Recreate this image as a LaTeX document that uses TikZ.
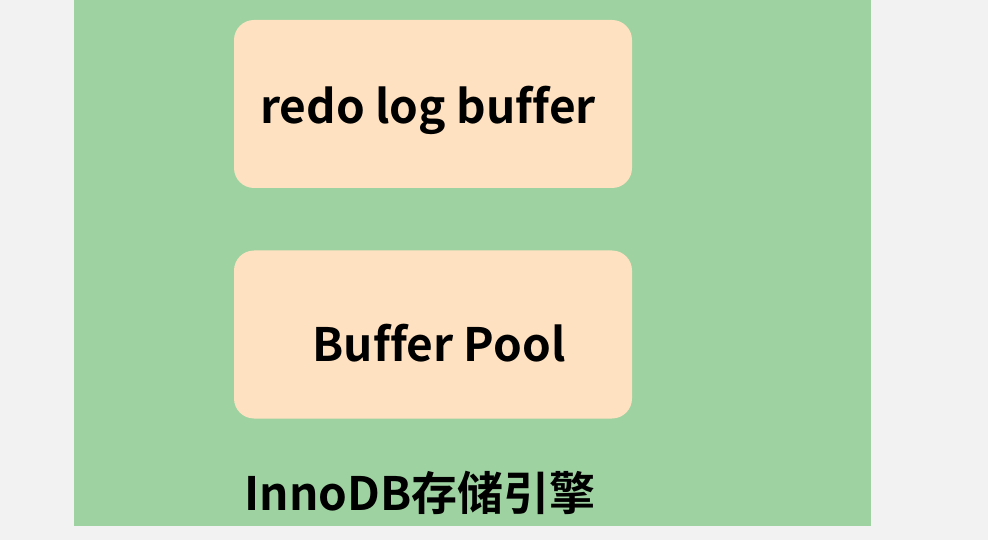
\documentclass[tikz,border=0pt]{standalone}
\usepackage{fontspec}
\setmainfont{Noto Sans CJK SC}[BoldFont={* Bold}, Ligatures=NoCommon]
\begin{document}
\begin{tikzpicture}[x=1pt,y=-1pt,
  bufbox/.style={fill=boxfill, draw=none, rounded corners=20pt, minimum width=398pt, minimum height=168pt, inner sep=0pt},
  lbl/.style={font=\bfseries\fontsize{46}{54}\selectfont, text=black, inner sep=0pt}]
\definecolor{bggray}{HTML}{F2F2F2}
\definecolor{engine}{HTML}{9ED2A1}
\definecolor{boxfill}{HTML}{FEE1C0}
\fill[bggray] (0,0) rectangle (988,540);
\useasboundingbox (0,0) rectangle (988,540);
\node[fill=engine, minimum width=797pt, minimum height=526pt, inner sep=0pt, anchor=north west] (engine) at (74,0) {};
\node[bufbox] (redo) at (433,104) {};
\node[bufbox] (pool) at (433,334.5) {};
\node[lbl] (redotxt) at (428,110) {redo log buffer};
\node[lbl] (pooltxt) at (439,343) {Buffer Pool};
\node[lbl] (enginetxt) at (420,493) {InnoDB存储引擎};
\end{tikzpicture}
\end{document}
